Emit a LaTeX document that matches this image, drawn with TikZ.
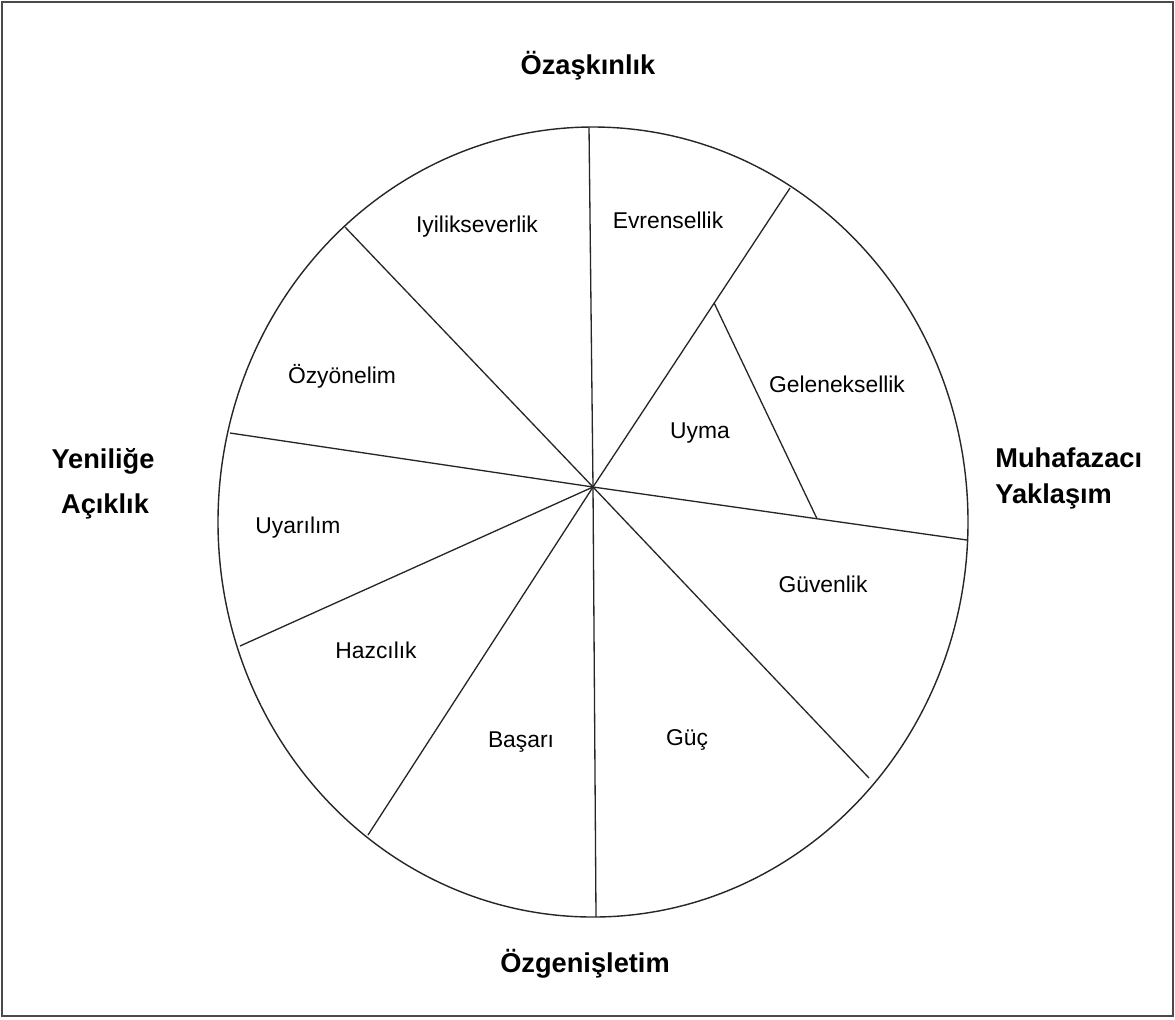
\documentclass[tikz,border=0pt]{standalone}
\usepackage{fontspec}
\setmainfont{Liberation Sans}
\usepackage{tikz}
\usetikzlibrary{calc, positioning}
\definecolor{FrameGray}{HTML}{4A4A4A}
\tikzset{
  wheel/.style={draw=black!85, line width=0.8pt},
  spoke/.style={draw=black!85, line width=0.75pt},
  valuelabel/.style={inner sep=0pt, anchor=base, font=\fontsize{13}{15}\selectfont},
  dimlabel/.style={inner sep=0pt, anchor=base, align=center, font=\bfseries\fontsize{15.5}{21}\selectfont}
}

\begin{document}
\begin{tikzpicture}[x=0.02cm, y=-0.02cm]
  \useasboundingbox (0,0) rectangle (1175,1019);
  \draw[FrameGray, line width=1.4pt] (2,2) rectangle (1173,1016);

  % wheel and spokes
  \coordinate (hub) at (593,487);
  \coordinate (rTop) at (589,127);
  \coordinate (rIO) at (345,227);
  \coordinate (rOU) at (230,433);
  \coordinate (rUH) at (240,646);
  \coordinate (rHB) at (368,835);
  \coordinate (rBot) at (596,917);
  \coordinate (rGG) at (869,778);
  \coordinate (rGS) at (967,540);
  \coordinate (rEG) at (790,188);
  \draw[wheel] (593,522) ellipse [x radius=375, y radius=395];
  \foreach \r in {rTop,rIO,rOU,rUH,rHB,rBot,rGG,rGS,rEG}
    \draw[spoke] (hub) -- (\r);
  \coordinate (uTop) at ($(hub)!0.615!(rEG)$);
  \coordinate (uBot) at ($(hub)!0.599!(rGS)$);
  \draw[spoke] (uTop) -- (uBot);

  % values
  \node[valuelabel] (iyilik) at (477,232) {Iyilikseverlik};
  \node[valuelabel] (ozyon) at (342,383) {Özyönelim};
  \node[valuelabel] (evren) at (668,228) {Evrensellik};
  \node[valuelabel] (gelenek) at (837,392) {Geleneksellik};
  \node[valuelabel] (uyma) at (700,438) {Uyma};
  \node[valuelabel] (uyari) at (298,533) {Uyarılım};
  \node[valuelabel] (haz) at (376,658) {Hazcılık};
  \node[valuelabel] (basari) at (521,747) {Başarı};
  \node[valuelabel] (guven) at (823,592) {Güvenlik};
  \node[valuelabel] (guc) at (687,745) {Güç};

  % dimensions
  \node[dimlabel] (ozask) at (588,74) {Özaşkınlık};
  \node[dimlabel] (ozgen) at (585,972) {Özgenişletim};
  \node[dimlabel] (yeni) at (103,468) {Yeniliğe};
  \node[dimlabel] (acik) at (105,513) {Açıklık};
  \node[dimlabel, anchor=base west] (muha) at (995,467) {Muhafazacı};
  \node[dimlabel, anchor=base west] (yakla) at (995,503) {Yaklaşım};
\end{tikzpicture}
\end{document}
